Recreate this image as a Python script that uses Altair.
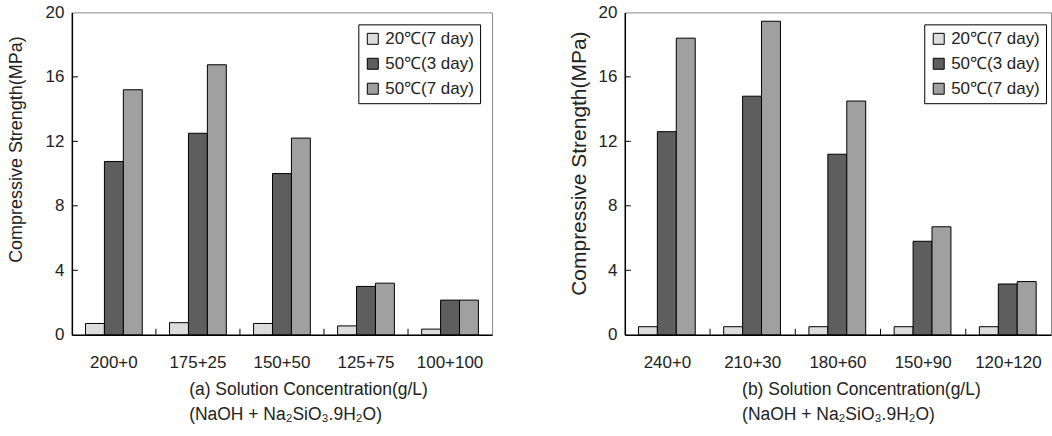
import altair as alt
import pandas as pd

series = ["20℃(7 day)", "50℃(3 day)", "50℃(7 day)"]
colors = ["#dcdcdc", "#5e5e5e", "#a0a0a0"]

cats_a = ["200+0", "175+25", "150+50", "125+75", "100+100"]
a_20_7 = [0.7, 0.75, 0.7, 0.55, 0.35]
a_50_3 = [10.75, 12.5, 10.0, 3.0, 2.15]
a_50_7 = [15.2, 16.75, 12.2, 3.2, 2.15]

cats_b = ["240+0", "210+30", "180+60", "150+90", "120+120"]
b_20_7 = [0.5, 0.5, 0.5, 0.5, 0.5]
b_50_3 = [12.6, 14.8, 11.2, 5.8, 3.15]
b_50_7 = [18.4, 19.45, 14.5, 6.7, 3.3]

y_ticks = [0, 4, 8, 12, 16, 20]
inner_ticks = [4, 8, 12, 16]

title_a = ["(a) Solution Concentration(g/L)", "(NaOH + Na₂SiO₃.9H₂O)"]
title_b = ["(b) Solution Concentration(g/L)", "(NaOH + Na₂SiO₃.9H₂O)"]

H = 323


def panel(cats, v1, v2, v3, xtitle, W, legend_x, y_title_pad, y_title_size, y_title_y, x_title_x):
    rows = []
    for s, vals in zip(series, [v1, v2, v3]):
        for c, v in zip(cats, vals):
            rows.append({"conc": c, "series": s, "value": v})
    df = pd.DataFrame(rows)
    xscale = alt.Scale(domain=cats, paddingInner=0, paddingOuter=0)
    xaxis = alt.Axis(title=xtitle, labelAngle=0, ticks=False, tickSize=0,
                     labelPadding=20, titlePadding=10, titleLineHeight=25,
                     titleFontSize=17.5, titleAlign="left", titleX=x_title_x)
    yaxis = alt.Axis(values=y_ticks, title="Compressive Strength(MPa)", ticks=False,
                     tickSize=0, labelPadding=8, titlePadding=y_title_pad, grid=False,
                     titleFontSize=y_title_size, titleY=y_title_y)
    yscale = alt.Scale(domain=[0, 20], nice=False)
    bars = alt.Chart(df).mark_bar(stroke="black", strokeWidth=1).encode(
        x=alt.X("conc:N", scale=xscale, sort=cats, axis=xaxis),
        xOffset=alt.XOffset("series:N", sort=series,
                            scale=alt.Scale(domain=series, paddingInner=0, paddingOuter=0.72)),
        y=alt.Y("value:Q", scale=yscale, axis=yaxis),
        color=alt.Color("series:N", sort=series,
                        scale=alt.Scale(domain=series, range=colors),
                        legend=alt.Legend(orient="none", legendX=legend_x, legendY=12, title=None,
                                          labelFontSize=17, symbolType="square", symbolSize=121,
                                          symbolStrokeColor="black", symbolStrokeWidth=1,
                                          strokeColor="black", fillColor="white", padding=6,
                                          rowPadding=7, labelOffset=4, labelLimit=300,
                                          labelColor="#222")),
    )
    yt = alt.Chart(pd.DataFrame({"value": inner_ticks})).mark_rule(color="black", strokeWidth=1).encode(
        y=alt.Y("value:Q", scale=yscale, axis=yaxis), x=alt.value(0), x2=alt.value(6))
    xt = alt.Chart(pd.DataFrame({"conc": cats[1:]})).mark_rule(color="black", strokeWidth=1).encode(
        x=alt.X("conc:N", bandPosition=0, scale=xscale, sort=cats, axis=xaxis),
        y=alt.value(H), y2=alt.value(H - 6))
    return alt.layer(bars, yt, xt).properties(width=W, height=H)


left = panel(cats_a, a_20_7, a_50_3, a_50_7, title_a, 421, 287, 20, 18, 137, 117)
right = panel(cats_b, b_20_7, b_50_3, b_50_7, title_b, 427, 300, 8, 21, 151, 117)

chart = alt.hconcat(left, right, spacing=75).resolve_scale(
    color="independent", x="independent", y="independent"
).resolve_legend(color="independent").properties(
    padding={"left": 6, "top": 2, "right": 0, "bottom": 0},
    background="white",
).configure_view(
    stroke="#8a8a8a", strokeWidth=1
).configure_axis(
    domainColor="black", domainWidth=1.5, labelFont="Liberation Sans", titleFont="Liberation Sans",
    labelFontSize=17, titleFontSize=16, labelColor="#222", titleColor="#222",
    titleFontWeight="normal"
).configure_legend(
    labelFont="Liberation Sans"
)

chart.save("out.html", embed_options={"renderer": "svg", "actions": False})
